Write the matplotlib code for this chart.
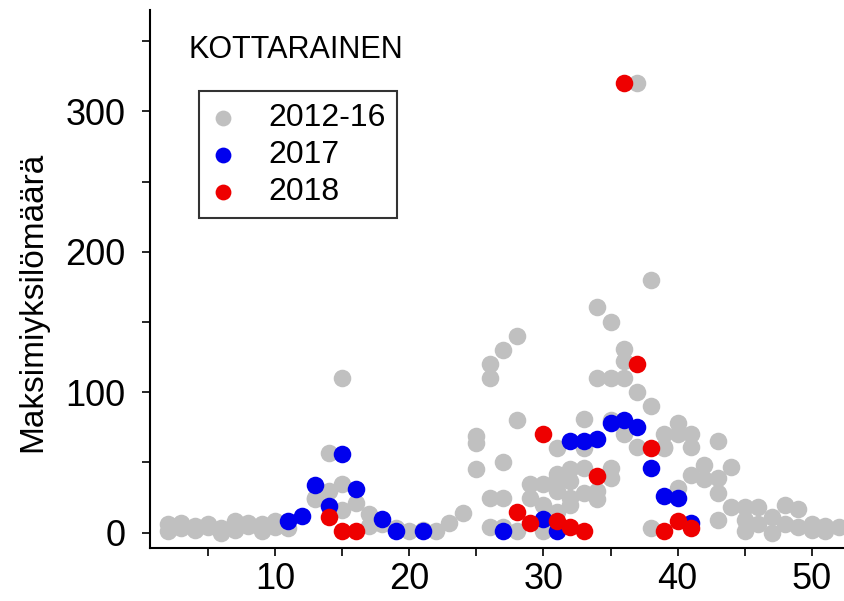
import matplotlib

matplotlib.use('Agg')
import matplotlib.pyplot as plt
from matplotlib.ticker import MultipleLocator

# 2012-16
gray_x = [2, 2, 3, 3, 4, 4, 5, 5, 6, 6, 7, 7, 8, 8, 9, 9, 10, 10, 11,
          13, 13, 14, 14, 15, 15, 15, 16, 17, 17, 18, 19, 20, 21, 22, 23, 24,
          25, 25, 25, 26, 26, 26, 26, 27, 27, 27, 27, 28, 28, 28, 29, 29,
          30, 30, 30, 31, 31, 31, 31, 31, 32, 32, 32, 32, 33, 33, 33, 33,
          34, 34, 34, 34, 35, 35, 35, 35, 35, 36, 36, 36, 36, 37, 37, 37,
          38, 38, 38, 39, 39, 39, 40, 40, 40, 41, 41, 41, 42, 42,
          43, 43, 43, 43, 44, 44, 45, 45, 45, 46, 46, 47, 47, 48, 48,
          49, 49, 50, 50, 51, 51, 52]
gray_y = [6, 1, 7, 3, 5, 2, 6, 4, 3, 0, 8, 2, 5, 7, 6, 1, 8, 4, 3,
          25, 24, 57, 30, 110, 35, 16, 21, 13, 5, 6, 3, 1, 2, 1, 7, 14,
          69, 64, 45, 120, 110, 25, 4, 130, 50, 25, 4, 140, 80, 1, 35, 25,
          35, 1, 20, 60, 42, 39, 30, 15, 37, 25, 20, 45, 81, 46, 28, 60,
          161, 110, 24, 30, 150, 110, 46, 39, 80, 131, 122, 110, 70, 320, 100, 61,
          180, 90, 3, 70, 61, 60, 78, 70, 32, 70, 61, 41, 48, 38,
          65, 39, 28, 9, 47, 18, 18, 9, 1, 18, 6, 11, 0, 20, 6,
          17, 4, 6, 2, 1, 5, 4]

# 2017
blue_x = [11, 12, 13, 14, 15, 16, 18, 19, 21, 27, 30, 31, 32, 33, 34, 35, 36, 37, 38, 39, 40, 41]
blue_y = [8, 12, 34, 19, 56, 31, 10, 1, 1, 1, 10, 1, 65, 65, 67, 78, 80, 75, 46, 26, 25, 7]

# 2018
red_x = [14, 15, 16, 28, 29, 30, 31, 32, 33, 34, 36, 37, 38, 39, 40, 41]
red_y = [11, 1, 1, 15, 7, 70, 8, 4, 1, 40, 320, 120, 60, 1, 8, 3]

plt.rcParams['font.family'] = ['Liberation Sans', 'DejaVu Sans']

fig = plt.figure(figsize=(8.44, 6.01), dpi=100)
ax = fig.add_axes((0.178, 0.088, 0.822, 0.895))

ax.scatter(gray_x, gray_y, s=160, color='#c0c0c0', linewidths=0, label='2012-16', zorder=2)
ax.scatter(blue_x, blue_y, s=160, color='#0000ee', linewidths=0, label='2017', zorder=3)
ax.scatter(red_x, red_y, s=160, color='#ee0000', linewidths=0, label='2018', zorder=4)

ax.set_xlim(0.7, 52.4)
ax.set_ylim(-11, 372)
ax.xaxis.set_major_locator(MultipleLocator(10))
ax.xaxis.set_minor_locator(MultipleLocator(5))
ax.yaxis.set_major_locator(MultipleLocator(100))
ax.yaxis.set_minor_locator(MultipleLocator(50))
ax.tick_params(which='both', direction='out', length=6, width=1.2, labelsize=26)
ax.tick_params(axis='x', pad=4)
ax.tick_params(axis='y', pad=12)

ax.spines['top'].set_visible(False)
ax.spines['right'].set_visible(False)
ax.spines['left'].set_linewidth(1.5)
ax.spines['bottom'].set_linewidth(1.5)

ax.set_ylabel('Maksimiyksilömäärä', fontsize=24)
ax.yaxis.set_label_coords(-0.147, 0.457)
ax.text(0.055, 0.953, 'KOTTARAINEN', transform=ax.transAxes, fontsize=22, va='top', ha='left')

leg = ax.legend(loc='upper left', bbox_to_anchor=(0.0706, 0.849), fontsize=23, frameon=True,
                fancybox=False, edgecolor='black', handlelength=0.8, handletextpad=1.0,
                borderpad=0.36, labelspacing=0.22, markerscale=0.9, borderaxespad=0)
leg.get_frame().set_linewidth(1.5)

plt.savefig('out.png', dpi=100)
